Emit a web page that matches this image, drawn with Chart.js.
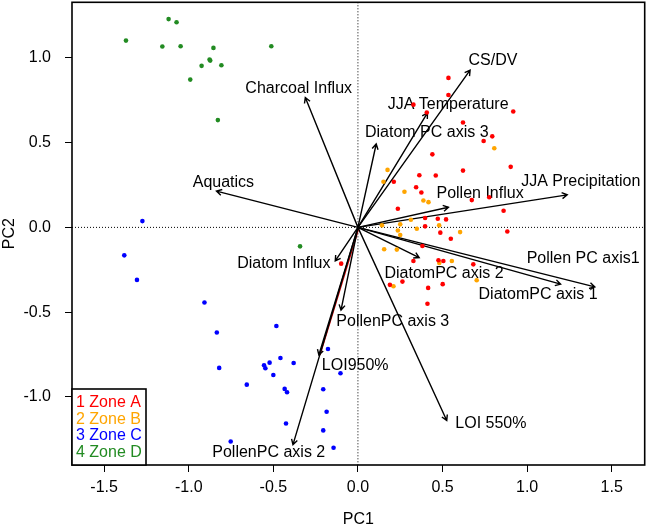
<!DOCTYPE html>
<html>
<head>
<meta charset="utf-8">
<script src="https://cdn.jsdelivr.net/npm/chart.js@4.4.0/dist/chart.umd.min.js"></script>
<style>
  html, body { margin: 0; padding: 0; background: #fff; }
  #wrap { width: 647px; height: 529px; }
</style>
</head>
<body>
<div id="wrap"><canvas id="pcaChart" width="647" height="529"></canvas></div>
<script>
// SAMPLE SCORES PER ZONE (PC1, PC2)
var zoneA_x = [0.535, 0.535, 0.328, 0.407, 0.918, 0.621, 0.794, 0.743, 0.440, 0.903, 0.621, 0.363, 0.460,
  0.212, 0.344, 0.375, 0.673, 0.776, 0.236, 0.861, 0.397, 0.472, 0.521, 0.397, 0.487, 0.549, 0.883,
  0.381, 0.328, 0.476, 0.505, 0.682, 0.263, 0.189, 0.415, 0.501, 0.411, -0.099];
var zoneA_y = [0.882, 0.781, 0.724, 0.678, 0.684, 0.619, 0.537, 0.510, 0.431, 0.357, 0.335, 0.308, 0.306,
  0.269, 0.237, 0.206, 0.161, 0.178, 0.110, 0.098, 0.055, 0.051, 0.047, 0.006, -0.031, -0.067, -0.024,
  -0.110, -0.198, -0.194, -0.198, -0.218, -0.320, -0.339, -0.357, -0.335, -0.451, -0.214];

var zoneB_x = [0.806, 0.175, 0.151, 0.275, 0.387, 0.417, 0.313, 0.250, 0.142, 0.348, 0.480, 0.236, 0.250,
  0.604, 0.155, 0.230, 0.481, 0.555, 0.702, 0.210];
var zoneB_y = [0.467, 0.339, 0.269, 0.210, 0.159, 0.149, 0.045, 0.018, 0.012, -0.008, 0.012, -0.018, -0.045,
  -0.028, -0.129, -0.131, -0.210, -0.198, -0.312, -0.347];

var zoneC_x = [-1.274, -1.381, -1.306, -0.907, -0.834, -0.482, -0.820, -0.555, -0.547, -0.522, -0.458, -0.380,
  -0.500, -0.657, -0.433, -0.419, -0.425, -0.752, -0.177, -0.205, -0.185, -0.205, -0.103, -0.144];
var zoneC_y = [0.037, -0.165, -0.310, -0.443, -0.620, -0.582, -0.829, -0.814, -0.831, -0.798, -0.771, -0.800,
  -0.871, -0.928, -0.953, -0.973, -1.157, -1.263, -0.718, -0.955, -1.088, -1.198, -0.861, -1.300];

var zoneD_x = [-1.371, -1.119, -1.072, -1.156, -1.048, -0.854, -0.877, -0.873, -0.924, -0.807, -0.991, -0.828,
  -0.512, -0.342];
var zoneD_y = [1.102, 1.229, 1.210, 1.067, 1.069, 1.059, 0.990, 0.984, 0.953, 0.957, 0.872, 0.633,
  1.069, -0.112];

var zoneLabels = ['1 Zone A', '2 Zone B', '3 Zone C', '4 Zone D'];

// VARIABLE LOADINGS (ARROW TIPS) AND WHERE THEIR NAMES SIT
var varNames = ['CS/DV', 'JJA Temperature', 'Diatom PC axis 3', 'Charcoal Influx', 'Aquatics',
  'JJA Precipitation', 'Pollen Influx', 'Pollen PC axis1', 'DiatomPC axis 1', 'DiatomPC axis 2',
  'LOI 550%', 'PollenPC axis 3', 'LOI950%', 'PollenPC axis 2', 'Diatom Influx'];
var varPC1 = [0.663, 0.411, 0.108, -0.311, -0.836, 1.237, 0.535, 1.400, 1.198, 0.362, 0.525, -0.100, -0.231, -0.384, -0.134];
var varPC2 = [0.928, 0.675, 0.492, 0.766, 0.214, 0.192, 0.119, -0.351, -0.335, -0.178, -1.139, -0.488, -0.753, -1.282, -0.198];
var labelPC1 = [0.798, 0.533, 0.407, -0.350, -0.795, 1.317, 0.722, 1.331, 1.065, 0.509, 0.786, 0.206, -0.016, -0.527, -0.438];
var labelPC2 = [0.982, 0.724, 0.557, 0.819, 0.266, 0.272, 0.202, -0.184, -0.394, -0.272, -1.155, -0.553, -0.818, -1.328, -0.214];

var xTicks = [-1.5, -1.0, -0.5, 0.0, 0.5, 1.0, 1.5];
var yTicks = [-1.0, -0.5, 0.0, 0.5, 1.0];

var zoneColors = ['#ff0000', '#ffa500', '#0000ff', '#228b22'];
var FONT = '"Liberation Sans", Arial, Helvetica, sans-serif';

function toPoints(xs, ys) {
  return xs.map(function (v, i) { return { x: v, y: ys[i] }; });
}

function drawArrow(ctx, x1, y1, x2, y2) {
  var ang = Math.atan2(y2 - y1, x2 - x1);
  var len = 6, spread = Math.PI / 6;
  ctx.beginPath();
  ctx.moveTo(x1, y1);
  ctx.lineTo(x2, y2);
  ctx.moveTo(x2 - len * Math.cos(ang - spread), y2 - len * Math.sin(ang - spread));
  ctx.lineTo(x2, y2);
  ctx.lineTo(x2 - len * Math.cos(ang + spread), y2 - len * Math.sin(ang + spread));
  ctx.stroke();
}

// ZERO LINES, ARROWS AND NAMES UNDER THE POINTS; BOX AND LEGEND ON TOP
var biplotPlugin = {
  id: 'biplot',
  beforeDatasetsDraw: function (chart) {
    var ctx = chart.ctx, xs = chart.scales.x, ys = chart.scales.y, area = chart.chartArea;
    var x0 = xs.getPixelForValue(0), y0 = ys.getPixelForValue(0);
    ctx.save();
    ctx.strokeStyle = '#000';
    ctx.lineWidth = 1;
    ctx.setLineDash([1, 2]);
    ctx.beginPath();
    ctx.moveTo(area.left, y0); ctx.lineTo(area.right, y0);
    ctx.moveTo(x0, area.top); ctx.lineTo(x0, area.bottom);
    ctx.stroke();
    ctx.setLineDash([]);

    // red trace alongside LOI950%
    var k = varNames.indexOf('LOI950%');
    ctx.strokeStyle = '#d00000';
    ctx.lineWidth = 1.2;
    ctx.beginPath();
    ctx.moveTo(x0 + 1.2, y0);
    ctx.lineTo(xs.getPixelForValue(varPC1[k]) + 1.2, ys.getPixelForValue(varPC2[k]));
    ctx.stroke();

    ctx.strokeStyle = '#000';
    ctx.lineWidth = 1.4;
    for (var i = 0; i < varNames.length; i++) {
      drawArrow(ctx, x0, y0, xs.getPixelForValue(varPC1[i]), ys.getPixelForValue(varPC2[i]));
    }

    ctx.fillStyle = '#000';
    ctx.font = '16px ' + FONT;
    ctx.textAlign = 'center';
    ctx.textBaseline = 'middle';
    for (var j = 0; j < varNames.length; j++) {
      ctx.fillText(varNames[j], xs.getPixelForValue(labelPC1[j]), ys.getPixelForValue(labelPC2[j]));
    }
    ctx.restore();
  },
  afterDraw: function (chart) {
    var ctx = chart.ctx, area = chart.chartArea;
    ctx.save();
    ctx.strokeStyle = '#000';
    ctx.lineWidth = 1.6;
    ctx.strokeRect(area.left, area.top, area.right - area.left, area.bottom - area.top);

    // legend box in the lower left corner
    var bw = 74, bh = 76;
    ctx.fillStyle = '#fff';
    ctx.fillRect(area.left, area.bottom - bh, bw, bh);
    ctx.strokeRect(area.left, area.bottom - bh, bw, bh);
    ctx.font = '16px ' + FONT;
    ctx.textAlign = 'left';
    ctx.textBaseline = 'middle';
    for (var i = 0; i < zoneLabels.length; i++) {
      ctx.fillStyle = zoneColors[i];
      ctx.fillText(zoneLabels[i], area.left + 4, area.bottom - 62 + i * 16.5);
    }
    ctx.restore();
  }
};

var zonesX = [zoneA_x, zoneB_x, zoneC_x, zoneD_x];
var zonesY = [zoneA_y, zoneB_y, zoneC_y, zoneD_y];
var datasets = zoneLabels.map(function (lab, i) {
  return {
    label: lab,
    data: toPoints(zonesX[i], zonesY[i]),
    backgroundColor: zoneColors[i],
    borderWidth: 0,
    pointRadius: 2.3,
    pointHoverRadius: 2.3
  };
});

var axisFont = { family: FONT, size: 16 };

new Chart(document.getElementById('pcaChart').getContext('2d'), {
  type: 'scatter',
  data: { datasets: datasets },
  options: {
    responsive: false,
    animation: false,
    devicePixelRatio: 1,
    layout: { padding: { left: 0, right: 2, top: 1, bottom: 0 } },
    plugins: {
      legend: { display: false },
      tooltip: { enabled: false }
    },
    scales: {
      x: {
        type: 'linear',
        min: -1.69,
        max: 1.695,
        afterBuildTicks: function (s) { s.ticks = xTicks.map(function (v) { return { value: v }; }); },
        afterFit: function (s) { s.height = 64; s.paddingLeft = 0; s.paddingRight = 0; },
        border: { display: false },
        grid: { drawOnChartArea: false, drawTicks: true, tickLength: 7, color: '#000', lineWidth: 1 },
        ticks: {
          color: '#000', font: axisFont, padding: 6, maxRotation: 0,
          callback: function (v) { return Number(v).toFixed(1); }
        },
        title: { display: true, text: 'PC1', color: '#000', font: axisFont, padding: 0 }
      },
      y: {
        type: 'linear',
        min: -1.402,
        max: 1.328,
        afterBuildTicks: function (s) { s.ticks = yTicks.map(function (v) { return { value: v }; }); },
        afterFit: function (s) { s.width = 72; s.paddingTop = 0; s.paddingBottom = 0; },
        border: { display: false },
        grid: { drawOnChartArea: false, drawTicks: true, tickLength: 7, color: '#000', lineWidth: 1 },
        ticks: {
          color: '#000', font: axisFont, padding: 14,
          callback: function (v) { return Number(v).toFixed(1); }
        },
        title: { display: true, text: 'PC2', color: '#000', font: axisFont, padding: 0 }
      }
    }
  },
  plugins: [biplotPlugin]
});
</script>
</body>
</html>
